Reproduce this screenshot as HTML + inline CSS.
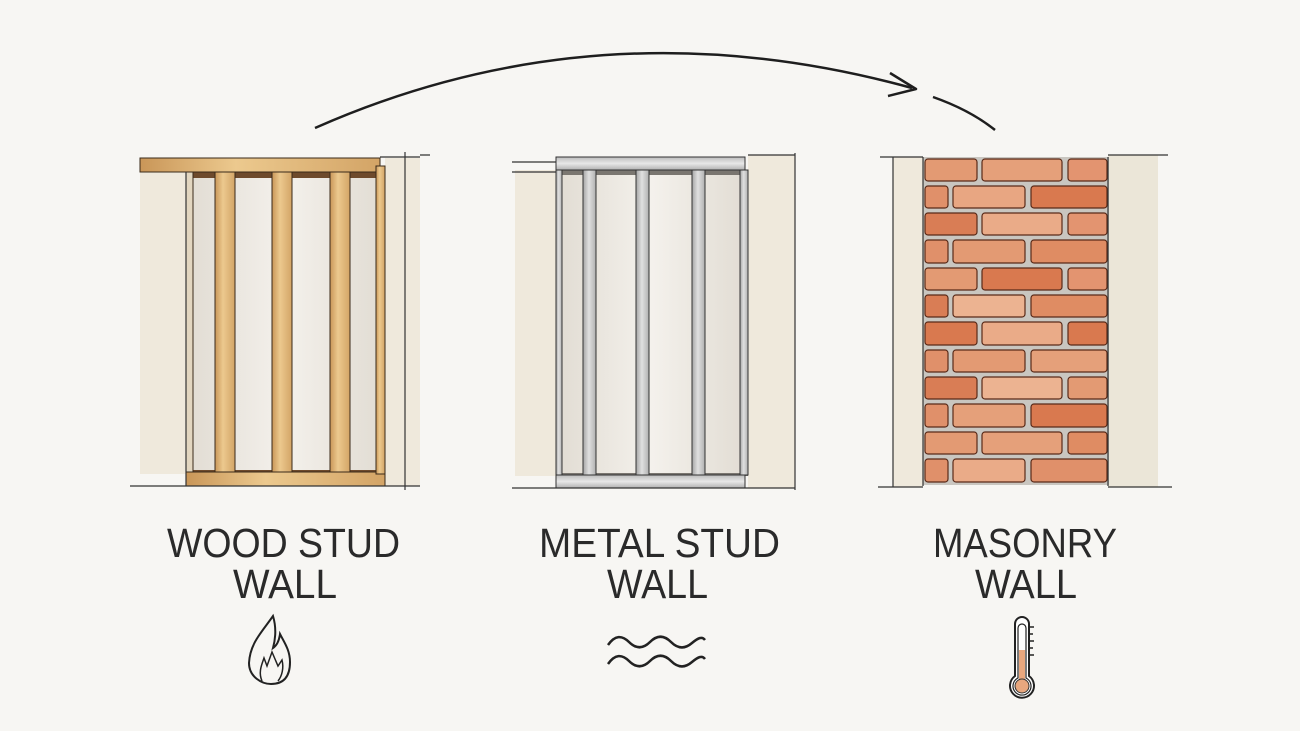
<!DOCTYPE html>
<html><head><meta charset="utf-8"><style>
html,body{margin:0;padding:0;background:#f7f6f3;}
svg{display:block}
text{font-family:"Liberation Sans",sans-serif;fill:#2a2a2a;font-weight:normal}
</style></head><body>
<svg width="1300" height="731" viewBox="0 0 1300 731" xmlns="http://www.w3.org/2000/svg">
<defs>
<linearGradient id="fluff" x1="0" x2="1"><stop offset="0" stop-color="#e2ddd4"/><stop offset=".5" stop-color="#f4f1ec"/><stop offset="1" stop-color="#e2ddd4"/></linearGradient>
<linearGradient id="wood" x1="0" x2="1"><stop offset="0" stop-color="#c99658"/><stop offset=".4" stop-color="#ecc98e"/><stop offset="1" stop-color="#d3a466"/></linearGradient>
<linearGradient id="steel" x1="0" x2="1"><stop offset="0" stop-color="#a5a5a5"/><stop offset=".45" stop-color="#e0e0e0"/><stop offset="1" stop-color="#b0b0b0"/></linearGradient>
<linearGradient id="steelh" x1="0" y1="0" x2="0" y2="1"><stop offset="0" stop-color="#bcbcbc"/><stop offset=".5" stop-color="#e8e8e8"/><stop offset="1" stop-color="#b0b0b0"/></linearGradient>
</defs>
<rect width="1300" height="731" fill="#f7f6f3"/>

<!-- arrow -->
<path d="M315 128 Q 600 2 912 88" fill="none" stroke="#1e1e1e" stroke-width="2.5"/>
<path d="M890 73 L916 89 L888 96" fill="none" stroke="#1e1e1e" stroke-width="2.5" stroke-linejoin="round"/>
<path d="M933 97 Q 970 110 995 130" fill="none" stroke="#1e1e1e" stroke-width="2.5"/>

<!-- WOOD -->
<rect x="140" y="172" width="46" height="302" fill="#efe9dc"/>
<rect x="385" y="158" width="35" height="328" fill="#efe9dc"/>
<rect x="186" y="172" width="199" height="300" fill="#6e4a2c"/>
<rect x="192" y="178" width="186" height="292" fill="url(#fluff)"/>
<rect x="140" y="158" width="240" height="14" fill="url(#wood)" stroke="#3a2a1a" stroke-width="1"/>
<rect x="186" y="472" width="199" height="14" fill="url(#wood)" stroke="#3a2a1a" stroke-width="1"/>
<rect x="215" y="172" width="20" height="300" fill="url(#wood)" stroke="#3a2a1a" stroke-width="1"/>
<rect x="272" y="172" width="20" height="300" fill="url(#wood)" stroke="#3a2a1a" stroke-width="1"/>
<rect x="330" y="172" width="20" height="300" fill="url(#wood)" stroke="#3a2a1a" stroke-width="1"/>
<rect x="376" y="166" width="9" height="308" fill="url(#wood)" stroke="#3a2a1a" stroke-width="1"/>
<rect x="186" y="172" width="7" height="300" fill="#e2d6c0" stroke="#3a2a1a" stroke-width="1"/>
<path d="M130 486 H420 M405 152 V490 M420 155 H430 M380 157 H420 M186 172 V486" stroke="#333" stroke-width="1.2" fill="none"/>

<!-- METAL -->
<rect x="515" y="170" width="41" height="306" fill="#efe9dc"/>
<rect x="748" y="155" width="47" height="333" fill="#efe9dc"/>
<rect x="556" y="170" width="192" height="306" fill="#7a7670"/>
<rect x="561" y="175" width="182" height="298" fill="url(#fluff)"/>
<rect x="556" y="157" width="189" height="13" fill="url(#steelh)" stroke="#333" stroke-width="1"/>
<rect x="556" y="475" width="189" height="13" fill="url(#steelh)" stroke="#333" stroke-width="1"/>
<rect x="583" y="170" width="13" height="305" fill="url(#steel)" stroke="#333" stroke-width="1"/>
<rect x="636" y="170" width="13" height="305" fill="url(#steel)" stroke="#333" stroke-width="1"/>
<rect x="692" y="170" width="13" height="305" fill="url(#steel)" stroke="#333" stroke-width="1"/>
<rect x="556" y="170" width="6" height="305" fill="url(#steel)" stroke="#333" stroke-width="1"/>
<rect x="740" y="170" width="8" height="305" fill="url(#steel)" stroke="#333" stroke-width="1"/>
<path d="M512 162 H556 M512 172 H556 M512 488 H795 M748 155 H795 M795 153 V490" stroke="#333" stroke-width="1.2" fill="none"/>

<!-- MASONRY -->
<rect x="893" y="157" width="30" height="330" fill="#efe9dc"/>
<rect x="1108" y="155" width="50" height="332" fill="#ebe6d8"/>
<rect x="923" y="157" width="186" height="328" fill="#c9c6c0"/>
<g stroke="#5a2a18" stroke-width="1.2">
<rect x="925" y="159" width="52" height="22" rx="3" fill="#e39a73"/><rect x="982" y="159" width="80" height="22" rx="3" fill="#e5a07a"/><rect x="1068" y="159" width="39" height="22" rx="3" fill="#e39470"/>
<rect x="925" y="186" width="23" height="22" rx="3" fill="#e0906a"/><rect x="953" y="186" width="72" height="22" rx="3" fill="#e8a682"/><rect x="1031" y="186" width="76" height="22" rx="3" fill="#d9794f"/>
<rect x="925" y="213" width="52" height="22" rx="3" fill="#d97d55"/><rect x="982" y="213" width="80" height="22" rx="3" fill="#eaab88"/><rect x="1068" y="213" width="39" height="22" rx="3" fill="#e39470"/>
<rect x="925" y="240" width="23" height="23" rx="3" fill="#e0906a"/><rect x="953" y="240" width="72" height="23" rx="3" fill="#e39a73"/><rect x="1031" y="240" width="76" height="23" rx="3" fill="#df8c63"/>
<rect x="925" y="268" width="52" height="22" rx="3" fill="#e39a73"/><rect x="982" y="268" width="80" height="22" rx="3" fill="#d9794f"/><rect x="1068" y="268" width="39" height="22" rx="3" fill="#e39470"/>
<rect x="925" y="295" width="23" height="22" rx="3" fill="#d97d55"/><rect x="953" y="295" width="72" height="22" rx="3" fill="#ecb391"/><rect x="1031" y="295" width="76" height="22" rx="3" fill="#df8c63"/>
<rect x="925" y="322" width="52" height="23" rx="3" fill="#d9794f"/><rect x="982" y="322" width="80" height="23" rx="3" fill="#eaab88"/><rect x="1068" y="322" width="39" height="23" rx="3" fill="#d9794f"/>
<rect x="925" y="350" width="23" height="22" rx="3" fill="#e0906a"/><rect x="953" y="350" width="72" height="22" rx="3" fill="#e39a73"/><rect x="1031" y="350" width="76" height="22" rx="3" fill="#e5a07a"/>
<rect x="925" y="377" width="52" height="22" rx="3" fill="#d97d55"/><rect x="982" y="377" width="80" height="22" rx="3" fill="#ecb391"/><rect x="1068" y="377" width="39" height="22" rx="3" fill="#e39a73"/>
<rect x="925" y="404" width="23" height="23" rx="3" fill="#e0906a"/><rect x="953" y="404" width="72" height="23" rx="3" fill="#e5a07a"/><rect x="1031" y="404" width="76" height="23" rx="3" fill="#d9794f"/>
<rect x="925" y="432" width="52" height="22" rx="3" fill="#e39a73"/><rect x="982" y="432" width="80" height="22" rx="3" fill="#e5a07a"/><rect x="1068" y="432" width="39" height="22" rx="3" fill="#df8c63"/>
<rect x="925" y="459" width="23" height="23" rx="3" fill="#e0906a"/><rect x="953" y="459" width="72" height="23" rx="3" fill="#eaab88"/><rect x="1031" y="459" width="76" height="23" rx="3" fill="#e0906a"/>
</g>
<path d="M880 157 H923 M923 157 V486 M1108 157 V486 M1108 155 H1168 M878 487 H923 M1108 487 H1172 M893 157 V487" stroke="#333" stroke-width="1.2" fill="none"/>

<!-- labels -->
<text x="167" y="557" font-size="41" textLength="233" lengthAdjust="spacingAndGlyphs">WOOD STUD</text>
<text x="233" y="598" font-size="41" textLength="104" lengthAdjust="spacingAndGlyphs">WALL</text>
<text x="539" y="557" font-size="41" textLength="241" lengthAdjust="spacingAndGlyphs">METAL STUD</text>
<text x="607" y="598" font-size="41" textLength="101" lengthAdjust="spacingAndGlyphs">WALL</text>
<text x="933" y="557" font-size="41" textLength="184" lengthAdjust="spacingAndGlyphs">MASONRY</text>
<text x="975" y="598" font-size="41" textLength="102" lengthAdjust="spacingAndGlyphs">WALL</text>

<!-- fire -->
<path d="M273 616 C262 632 250 643 249 663 C249 677 262 684 271 684 C287 684 290 672 290 662 C290 650 284 642 280 634 C279 642 276 646 273 648 C276 637 276 626 273 616 Z" fill="none" stroke="#222" stroke-width="2"/>
<path d="M262 681 C258 672 262 664 264 658 L267 666 L272 652 L278 666 L282 660 C284 668 282 676 278 681" fill="none" stroke="#222" stroke-width="1.5"/>
<!-- waves -->
<path d="M608 645 C615 635 622 635 629 642 C636 649 643 649 650 642 C657 635 664 635 671 642 C678 649 685 649 692 643 C698 638 702 636 705 640" fill="none" stroke="#222" stroke-width="2.5"/>
<path d="M608 664 C615 654 622 654 629 661 C636 668 643 668 650 661 C657 654 664 654 671 661 C678 668 685 668 692 662 C698 657 702 655 705 659" fill="none" stroke="#222" stroke-width="2.5"/>
<!-- thermometer -->
<path d="M1015 676 V624 a7 7 0 0 1 14 0 V676 a12 12 0 1 1 -14 0 Z" fill="#fff" stroke="#222" stroke-width="2"/>
<path d="M1018 678 V628 a4 4 0 0 1 8 0 V678 a9 9 0 1 1 -8 0 Z" fill="none" stroke="#222" stroke-width="1.2"/>
<rect x="1019" y="650" width="6" height="30" fill="#e8a77e"/>
<circle cx="1022" cy="686" r="7" fill="#e8a77e" stroke="#333" stroke-width="1"/>
<path d="M1029 627 h5 M1029 634 h4 M1029 641 h5 M1029 648 h4 M1029 655 h5" stroke="#222" stroke-width="1.5"/>
</svg>
</body></html>
